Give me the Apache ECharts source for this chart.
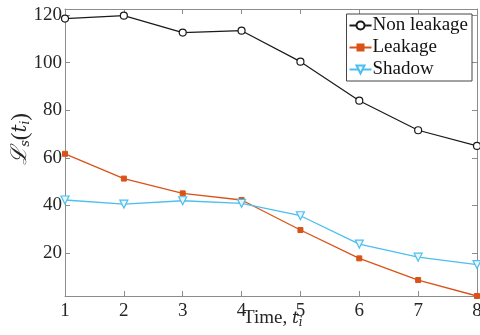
<!DOCTYPE html>
<html><head><meta charset="utf-8">
<script src="https://cdn.jsdelivr.net/npm/echarts@6/dist/echarts.min.js"></script>
<style>html,body{margin:0;padding:0;background:#fff}#c{width:480px;height:335px}</style>
</head><body><div id="c"></div>
<script>
const times = [1, 2, 3, 4, 5, 6, 7, 8];
const nonLeakage = [118.5, 119.7, 112.6, 113.4, 100.4, 84.0, 71.6, 65.0];
const leakage = [61.7, 51.3, 45.1, 42.3, 29.7, 17.8, 8.7, 2.0];
const shadow = [42.3, 40.6, 42.0, 40.9, 35.7, 23.8, 18.3, 15.2];
const yTicks = [20, 40, 60, 80, 100, 120];
const seriesNames = ['Non leakage', 'Leakage', 'Shadow'];

const pair = arr => times.map((t, i) => [t, arr[i]]);
const serif = 'Liberation Serif';
const axisCol = '#8c8c8c';
const txt = '#262626';
const chart = echarts.init(document.getElementById('c'));
const tickStyle = {show: true, inside: true, length: 5, lineStyle: {color: axisCol}};
chart.setOption({
  animation: false,
  grid: {left: 65, right: 3, top: 9, bottom: 39, outerBoundsMode: 'none', containLabel: false},
  legend: {
    right: 8, top: 14, orient: 'vertical', itemGap: 3, itemWidth: 22, itemHeight: 10,
    padding: [2, 4, 2, 2],
    borderColor: '#444', borderWidth: 1, backgroundColor: '#fff',
    textStyle: {fontFamily: serif, fontSize: 19, color: '#111', padding: [0, 0, 0, -4]},
    data: seriesNames
  },
  graphic: [{
    type: 'text', left: 9, top: 113, rotation: Math.PI / 2, originX: 0, originY: 0,
    style: {
      text: '{l|ℒ}{s|s}{p|(}{t|t}{i|i}{p|)}',
      rich: {
        l: {fontFamily: 'DejaVu Serif', fontStyle: 'italic', fontSize: 22, fill: txt},
        s: {fontFamily: 'DejaVu Serif', fontStyle: 'italic', fontSize: 13, fill: txt, padding: [10, 0, 0, 0]},
        p: {fontFamily: serif, fontSize: 23, fill: txt},
        t: {fontFamily: 'DejaVu Serif', fontStyle: 'italic', fontSize: 20, fill: txt},
        i: {fontFamily: 'DejaVu Serif', fontStyle: 'italic', fontSize: 12, fill: txt, padding: [10, 0, 0, 0]}
      }
    }
  }, {
    type: 'text', left: 243, top: 309,
    style: {
      text: '{a|Time, }{b|t}{c|i}',
      rich: {
        a: {fontFamily: serif, fontSize: 19, fill: txt},
        b: {fontFamily: 'DejaVu Serif', fontStyle: 'italic', fontSize: 17, fill: txt},
        c: {fontFamily: 'DejaVu Serif', fontStyle: 'italic', fontSize: 12, fill: txt, padding: [9, 0, 0, 0]}
      }
    }
  }],
  xAxis: [{
    type: 'value', min: 1, max: 8, interval: 1,
    axisLine: {lineStyle: {color: axisCol}}, axisTick: tickStyle, splitLine: {show: false},
    axisLabel: {fontFamily: serif, fontSize: 19, color: txt, margin: 6}
  }, {
    type: 'value', position: 'top', min: 1, max: 8, interval: 1,
    axisLine: {show: true, lineStyle: {color: axisCol}}, axisTick: tickStyle,
    axisLabel: {show: false}, splitLine: {show: false}
  }],
  yAxis: [{
    type: 'value', min: 2, max: 122.5,
    axisLine: {show: true, lineStyle: {color: axisCol}},
    axisTick: Object.assign({}, tickStyle, {customValues: yTicks}),
    splitLine: {show: false},
    axisLabel: {fontFamily: serif, fontSize: 19, color: txt, margin: 3, customValues: yTicks}
  }, {
    type: 'value', position: 'right', min: 2, max: 122.5,
    axisLine: {show: true, lineStyle: {color: axisCol}},
    axisTick: Object.assign({}, tickStyle, {customValues: yTicks}),
    axisLabel: {show: false}, splitLine: {show: false}
  }],
  series: [{
    name: seriesNames[0], type: 'line', data: pair(nonLeakage),
    symbol: 'circle', symbolSize: 7, showAllSymbol: true,
    lineStyle: {color: '#1a1a1a', width: 1.2},
    itemStyle: {color: '#fff', borderColor: '#1a1a1a', borderWidth: 1.2}
  }, {
    name: seriesNames[1], type: 'line', data: pair(leakage),
    symbol: 'rect', symbolSize: 5,
    lineStyle: {color: '#D95319', width: 1.3},
    itemStyle: {color: '#D95319', borderColor: '#D95319'}
  }, {
    name: seriesNames[2], type: 'line', data: pair(shadow),
    symbol: 'triangle', symbolRotate: 180, symbolSize: 8,
    lineStyle: {color: '#4DBEEE', width: 1.3},
    itemStyle: {color: '#e8f7fd', borderColor: '#4DBEEE', borderWidth: 1.2}
  }]
});
</script></body></html>
